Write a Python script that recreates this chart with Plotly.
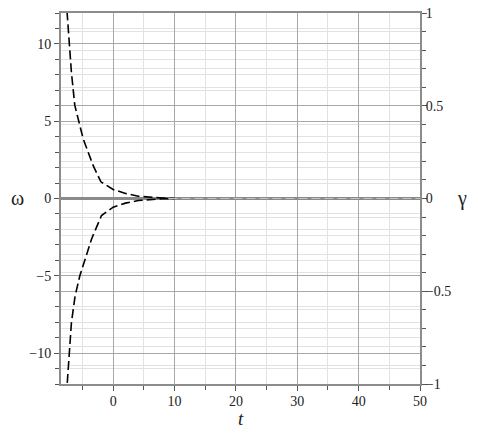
import plotly.graph_objects as go

# --- data ---
t_upper = [-7.52, -7.19, -6.81, -6.26, -4.9, -3.27, -2.0, 0.0, 2.0, 4.08, 6.0, 8.0, 10.0]
w_upper = [12.1, 10.37, 8.2, 6.04, 3.88, 2.14, 1.08, 0.58, 0.33, 0.15, 0.07, 0.03, 0.0]

t_lower = [-7.48, -7.2, -6.8, -6.2, -5.43, -3.5, -1.9, 0.0, 2.0, 4.1, 6.0, 8.0, 10.0]
w_lower = [-11.93, -10.0, -8.03, -6.3, -5.0, -2.6, -1.1, -0.56, -0.3, -0.13, -0.06, -0.02, 0.0]

t_gamma = [9.0, 50.0]
g_gamma = [0.0, 0.0]

x_range = [-8.5, 50]
w_range = [-12, 12]
g_range = [-1, 1]

FONT = "Liberation Serif, Times New Roman, serif"
AX = "#8c8c8c"
MAJ = "#a8a8a8"
MIN = "#e2e2e2"

fig = go.Figure()
fig.add_trace(go.Scatter(x=t_upper, y=w_upper, mode="lines",
                         line=dict(color="black", width=1.6, dash="9px,4px"),
                         showlegend=False))
fig.add_trace(go.Scatter(x=t_lower, y=w_lower, mode="lines",
                         line=dict(color="black", width=1.6, dash="9px,4px"),
                         showlegend=False))
fig.add_trace(go.Scatter(x=t_gamma, y=g_gamma, mode="lines", yaxis="y2",
                         line=dict(color="#c4c4c4", width=1.2, dash="9px,4px"),
                         showlegend=False))

tickfont = dict(family=FONT, size=14, color="#222")

fig.update_layout(
    width=478, height=435,
    margin=dict(l=61, r=58, t=13, b=51, autoexpand=False),
    paper_bgcolor="white", plot_bgcolor="white",
    xaxis=dict(range=x_range, dtick=10, tick0=0, showgrid=True, gridcolor=MAJ, gridwidth=1,
               minor=dict(dtick=5, showgrid=True, gridcolor=MIN, ticks="outside", ticklen=4, tickcolor="#555"),
               ticks="outside", ticklen=5, tickcolor="#555",
               showline=True, linecolor=AX, linewidth=2, mirror=True,
               zeroline=False, tickfont=tickfont, automargin=False,
               ticklabeloverflow="allow", ticklabelstandoff=-2),
    yaxis=dict(range=w_range, dtick=5, tick0=0, showgrid=True, gridcolor=MAJ, gridwidth=1,
               minor=dict(dtick=1, showgrid=True, gridcolor=MIN, ticks="outside", ticklen=4, tickcolor="#555"),
               ticks="outside", ticklen=5, tickcolor="#555",
               showline=True, linecolor=AX, linewidth=2,
               zeroline=True, zerolinecolor="#8a8a8a", zerolinewidth=2.5,
               tickfont=tickfont, automargin=False, ticklabeloverflow="allow"),
    yaxis2=dict(range=g_range, overlaying="y", side="right", dtick=0.5, tick0=0,
                showgrid=True, gridcolor=MAJ,
                minor=dict(dtick=0.1, showgrid=True, gridcolor=MIN, ticks="outside", ticklen=4, tickcolor="#555"),
                ticks="outside", ticklen=5, tickcolor="#555",
                showline=True, linecolor=AX, linewidth=2,
                zeroline=False, tickfont=tickfont, automargin=False,
                ticklabeloverflow="allow", ticklabelstandoff=-4),
    annotations=[
        dict(text="ω", x=-0.12, y=0.501, xref="paper", yref="paper", showarrow=False,
             xanchor="center", yanchor="middle",
             font=dict(family=FONT, size=20, color="#222")),
        dict(text="γ", x=1.117, y=0.501, xref="paper", yref="paper", showarrow=False,
             xanchor="center", yanchor="middle",
             font=dict(family=FONT, size=20, color="#222")),
        dict(text="<i>t</i>", x=0.501, y=-0.092, xref="paper", yref="paper", showarrow=False,
             xanchor="center", yanchor="middle",
             font=dict(family=FONT, size=19, color="#222")),
    ],
)

fig.write_html("out.html",
               config={"displayModeBar": False},
               post_script="document.body.style.margin='0';document.body.style.overflow='hidden';")
